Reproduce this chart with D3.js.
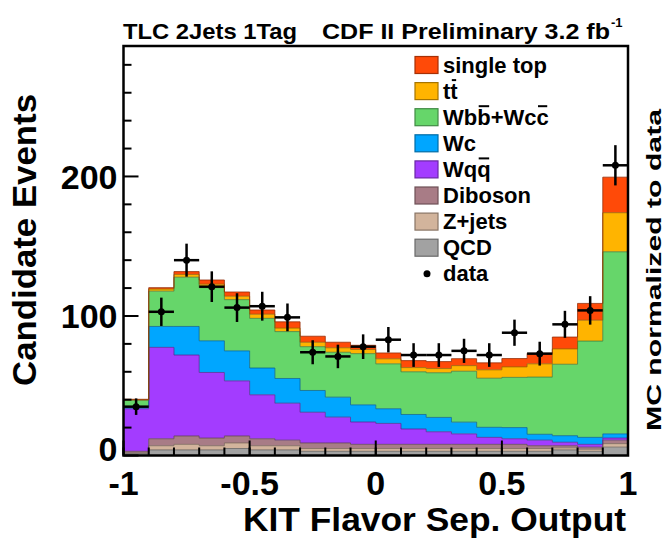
<!DOCTYPE html>
<html>
<head>
<meta charset="utf-8">
<script src="https://cdn.jsdelivr.net/npm/d3@7"></script>
<style>
  body { margin: 0; background: #fff; }
  svg { display: block; }
  text { font-family: "Liberation Sans", Arial, Helvetica, sans-serif; font-weight: bold; fill: #000; }
</style>
</head>
<body>
<svg id="chart" width="665" height="543"></svg>
<script>
// Bin lower edges of the KIT flavor separator output (20 bins, width 0.1)
const binLow = [-1.0, -0.9, -0.8, -0.7, -0.6, -0.5, -0.4, -0.3, -0.2, -0.1,
                 0.0,  0.1,  0.2,  0.3,  0.4,  0.5,  0.6,  0.7,  0.8,  0.9];
const binWidth = 0.1;

// Stacked background / signal templates (events per bin), bottom to top
const qcd       = [1.5, 4, 4, 4, 5, 4, 4, 3, 3, 3, 3, 3, 3, 3, 3, 3, 3, 4, 3, 6];
const zjets     = [0.5, 3, 4, 3, 4, 3, 3, 2, 2, 2, 2, 2, 2, 2, 2, 2, 2, 1.5, 1.5, 2.5];
const diboson   = [1, 5, 6, 5.5, 5, 5, 4, 4, 4, 3, 3, 3, 3, 3, 3, 3, 2, 1.5, 1.5, 2.5];
const wqq       = [30.5, 65.5, 58, 47, 39.5, 31.5, 26.5, 22, 18.5, 16, 15, 11, 9, 7.5, 5, 4, 4, 2.5, 2, 1.5];
const wc        = [1.3, 15, 20.5, 22.7, 21.5, 19.2, 17.7, 15.6, 14.3, 12.3, 10.5, 10.4, 10.3, 8.4, 7.2, 8, 4.2, 4.7, 5, 3];
const wbbwcc    = [4.7, 25.3, 35.3, 38.1, 36.7, 35.6, 33.6, 31.4, 32.2, 36.7, 32.2, 30.6, 32, 36.5, 35.2, 36, 41, 51.2, 69, 130.5];
const ttbar     = [0.5, 1.5, 2, 2.5, 2.5, 3, 2.5, 3.2, 3.2, 3, 3.6, 3, 3, 4, 6, 7.5, 9.5, 11, 15, 28];
const singleTop = [0.3, 1, 2, 3, 3, 3, 4.5, 4.3, 4, 3, 4.2, 5, 5, 5, 5, 6, 7.5, 8.5, 12, 25.5];

// Observed data counts per bin
const dataCounts = [35, 103, 140, 121, 106, 107, 99, 74, 71, 78, 83, 72, 72, 75, 72, 88, 73, 94, 104, 208];

// Axis ticks
const xMajorTicks = [-1, -0.5, 0, 0.5, 1];
const xTickLabels = ["-1", "-0.5", "0", "0.5", "1"];
const yMajorTicks = [0, 100, 200];
const yMinorTicks = [20, 40, 60, 80, 120, 140, 160, 180, 220, 240, 260, 280];

// Process names and fill colours (legend order, top to bottom)
const processNames  = ["single top", "tt", "Wbb+Wcc", "Wc", "Wqq", "Diboson", "Z+jets", "QCD"];
const processColors = ["#ff4a08", "#ffb400", "#66d66a", "#00a6ff", "#a33cff", "#a87c86", "#d2b49c", "#a2a2a2"];
const processSeries = [singleTop, ttbar, wbbwcc, wc, wqq, diboson, zjets, qcd];
// Characters that carry an anti-particle bar in the legend labels
const barredChars   = [[], [1], [2, 6], [], [2], [], [], []];

const svg = d3.select("#chart");
const frame = { left: 123.5, right: 628, top: 46, bottom: 455.5 };

const x = d3.scaleLinear().domain([-1, 1]).range([frame.left, frame.right]);
const y = d3.scaleLinear().domain([0, 293.5]).range([frame.bottom, frame.top]);

// Table for d3.stack: one row per bin
const stackKeys = processNames.slice().reverse(); // bottom-up
const rows = binLow.map((lo, i) => {
  const r = { lo: lo, hi: lo + binWidth };
  processNames.forEach((n, k) => { r[n] = processSeries[k][i]; });
  return r;
});
const stacked = d3.stack().keys(stackKeys)(rows);

const plot = svg.append("g");

// Step-shaped area for each stacked layer
function stepPoints(layer) {
  const pts = [];
  layer.forEach(d => {
    pts.push({ x: d.data.lo, y0: d[0], y1: d[1] });
    pts.push({ x: d.data.hi, y0: d[0], y1: d[1] });
  });
  return pts;
}
const area = d3.area().x(d => x(d.x)).y0(d => y(d.y0)).y1(d => y(d.y1));
const topLine = d3.line().x(d => x(d.x)).y(d => y(d.y1));

stacked.forEach(layer => {
  const color = processColors[processNames.indexOf(layer.key)];
  plot.append("path").attr("d", area(stepPoints(layer))).attr("fill", color);
});
stacked.forEach(layer => {
  const color = processColors[processNames.indexOf(layer.key)];
  plot.append("path").attr("d", topLine(stepPoints(layer)))
    .attr("fill", "none")
    .attr("stroke", d3.color(color).darker(1.6))
    .attr("stroke-opacity", 0.75)
    .attr("stroke-width", 1);
});

// Data points with Poisson error bars
const dataG = svg.append("g");
dataCounts.forEach((n, i) => {
  const cx = x(binLow[i] + binWidth / 2);
  const err = Math.sqrt(n);
  dataG.append("line").attr("x1", x(binLow[i])).attr("x2", x(binLow[i] + binWidth))
    .attr("y1", y(n)).attr("y2", y(n)).attr("stroke", "#000").attr("stroke-width", 2.5);
  dataG.append("line").attr("x1", cx).attr("x2", cx)
    .attr("y1", y(n - err)).attr("y2", y(n + err)).attr("stroke", "#000").attr("stroke-width", 2.5);
  dataG.append("circle").attr("cx", cx).attr("cy", y(n)).attr("r", 3.5).attr("fill", "#000");
});

// Frame
svg.append("rect")
  .attr("x", frame.left).attr("y", frame.top)
  .attr("width", frame.right - frame.left).attr("height", frame.bottom - frame.top)
  .attr("fill", "none").attr("stroke", "#000").attr("stroke-width", 2.5);

// Y axis ticks (drawn inward) and labels
const axG = svg.append("g").attr("stroke", "#000").attr("stroke-width", 2);
yMajorTicks.forEach(v => {
  axG.append("line").attr("x1", frame.left).attr("x2", frame.left + 15)
    .attr("y1", y(v)).attr("y2", y(v));
});
yMinorTicks.forEach(v => {
  axG.append("line").attr("x1", frame.left).attr("x2", frame.left + 8)
    .attr("y1", y(v)).attr("y2", y(v));
});
// X axis ticks (drawn upward)
xMajorTicks.forEach(v => {
  axG.append("line").attr("x1", x(v)).attr("x2", x(v))
    .attr("y1", frame.bottom).attr("y2", frame.bottom - 15);
});
binLow.forEach(v => {
  axG.append("line").attr("x1", x(v)).attr("x2", x(v))
    .attr("y1", frame.bottom).attr("y2", frame.bottom - 8);
});

yMajorTicks.forEach(v => {
  svg.append("text")
    .attr("x", frame.left - 6)
    .attr("y", v === 0 ? y(v) - 7 : y(v))
    .attr("dy", "0.36em")
    .attr("text-anchor", "end")
    .style("font-size", "34px")
    .text(String(v));
});
xMajorTicks.forEach((v, i) => {
  svg.append("text")
    .attr("x", x(v)).attr("y", 495)
    .attr("text-anchor", "middle")
    .style("font-size", "34px")
    .text(xTickLabels[i]);
});

// Axis titles
svg.append("text")
  .attr("transform", "translate(36,240) rotate(-90)")
  .attr("text-anchor", "middle")
  .style("font-size", "34px")
  .attr("textLength", 292).attr("lengthAdjust", "spacingAndGlyphs")
  .text("Candidate Events");

svg.append("text")
  .attr("x", 243).attr("y", 531)
  .style("font-size", "34px")
  .attr("textLength", 383).attr("lengthAdjust", "spacingAndGlyphs")
  .text("KIT Flavor Sep. Output");

svg.append("text")
  .attr("transform", "translate(661,270) rotate(-90)")
  .attr("text-anchor", "middle")
  .style("font-size", "21px")
  .attr("textLength", 322).attr("lengthAdjust", "spacingAndGlyphs")
  .text("MC normalized to data");

// Header
svg.append("text")
  .attr("x", 123).attr("y", 39)
  .style("font-size", "22px")
  .attr("textLength", 174).attr("lengthAdjust", "spacingAndGlyphs")
  .text("TLC 2Jets 1Tag");
svg.append("text")
  .attr("x", 322).attr("y", 39)
  .style("font-size", "22px")
  .attr("textLength", 288).attr("lengthAdjust", "spacingAndGlyphs")
  .text("CDF II Preliminary 3.2 fb");
svg.append("text")
  .attr("x", 611).attr("y", 27)
  .style("font-size", "13px")
  .text("-1");

// Legend
const legend = svg.append("g");
const legendTop = 65, legendStep = 26.1;
processNames.forEach((name, k) => {
  const cy = legendTop + k * legendStep;
  legend.append("rect")
    .attr("x", 415).attr("y", cy - 8.5).attr("width", 23).attr("height", 17)
    .attr("fill", processColors[k])
    .attr("stroke", d3.color(processColors[k]).darker(1.2)).attr("stroke-width", 1.2);
  const t = legend.append("text")
    .attr("x", 443).attr("y", cy + 7.5)
    .style("font-size", "22px")
    .text(name);
  barredChars[k].forEach(ci => {
    const node = t.node();
    const s = node.getStartPositionOfChar(ci);
    const e = node.getEndPositionOfChar(ci);
    legend.append("line")
      .attr("x1", s.x + 1.5).attr("x2", e.x - 1.5)
      .attr("y1", cy - 11).attr("y2", cy - 11)
      .attr("stroke", "#000").attr("stroke-width", 2);
  });
});
const dataLegendY = legendTop + processNames.length * legendStep;
legend.append("circle").attr("cx", 427).attr("cy", dataLegendY).attr("r", 3.5).attr("fill", "#000");
legend.append("text").attr("x", 443).attr("y", dataLegendY + 7.5)
  .style("font-size", "22px").text("data");
</script>
</body>
</html>
